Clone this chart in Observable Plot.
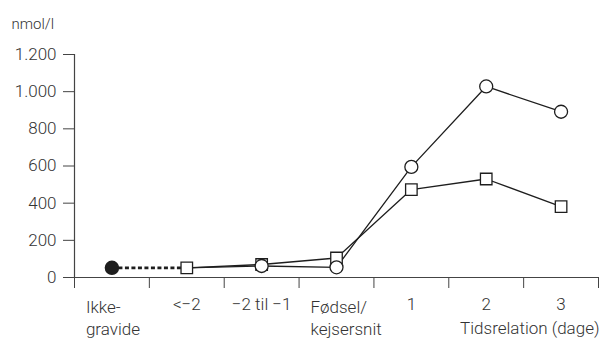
<!DOCTYPE html>
<html>
<head>
<meta charset="utf-8">
<script src="https://cdn.jsdelivr.net/npm/d3@7"></script>
<script src="https://cdn.jsdelivr.net/npm/@observablehq/plot@0.6"></script>
<style>
  html, body { margin: 0; padding: 0; background: white; }
  svg text { font-weight: 300; }
</style>
</head>
<body>
<div id="chart"></div>
<script>
// Categories on the x axis
const categories = ["Ikke-\ngravide", "<\u22122", "\u22122 til \u22121", "Fødsel/\nkejsersnit", "1", "2", "3"];
// Non-pregnant reference value (filled circle)
const nonPregnant = 52;
// Square series
const squareValues = [null, 52, 70, 105, 473, 530, 381];
// Circle series
const circleValues = [null, 52, 62, 55, 595, 1028, 892];
// Y tick values
const yTicks = [0, 200, 400, 600, 800, 1000, 1200];
const yLabel = "nmol/l";
const xLabel = "Tidsrelation (dage)";

const rows = categories.map((c, i) => ({i, c, sq: squareValues[i], ci: circleValues[i]}));
const dotted = [
  {i: 0, v: nonPregnant},
  {i: 1, v: squareValues[1]}
];
const boundaries = d3.range(categories.length + 1);
const fmt = d3.formatLocale({decimal: ",", thousands: ".", grouping: [3], currency: ["", ""]}).format(",");
const ink = "#1e1e1e";
const txt = "#333";

const chart = Plot.plot({
  width: 599,
  height: 338,
  marginLeft: 74,
  marginRight: 1,
  marginTop: 54,
  marginBottom: 61,
  style: {fontFamily: "Roboto", fontSize: "17px", color: txt, background: "white"},
  x: {domain: [0, categories.length], axis: null},
  y: {domain: [0, 1200], axis: null},
  marks: [
    Plot.axisY({ticks: yTicks, tickFormat: fmt, tickSize: 11, tickPadding: 7, label: null, stroke: "#444", fill: txt, fontSize: 17}),
    Plot.axisX({ticks: boundaries, tickFormat: () => "", tickSize: 11, label: null, stroke: "#444"}),
    Plot.ruleY([0], {stroke: "#444", strokeWidth: 1.2}),
    Plot.ruleX([0], {stroke: "#444", strokeWidth: 1.2}),
    // category labels: single-line centered
    Plot.text(rows.filter(d => !d.c.includes("\n")), {x: d => d.i + 0.5, frameAnchor: "bottom", text: "c", lineAnchor: "top", dy: 20, fill: txt}),
    // multi-line labels left-aligned
    Plot.text(rows.filter(d => d.c.includes("\n")), {x: d => d.i + 0.5, frameAnchor: "bottom", text: "c", lineAnchor: "top", textAnchor: "start", dx: -26, dy: 20, lineHeight: 1.3, fill: txt}),
    Plot.text([xLabel], {frameAnchor: "bottom-right", textAnchor: "end", lineAnchor: "middle", dx: 1, dy: 51, fill: txt}),
    Plot.text([yLabel], {frameAnchor: "top-left", textAnchor: "start", lineAnchor: "middle", dx: -63, dy: -30, fill: txt, fontSize: 15}),
    // lines
    Plot.line(dotted, {x: d => d.i + 0.5, y: "v", stroke: ink, strokeWidth: 2.6, strokeDasharray: "4,2.5", strokeLinecap: "butt"}),
    Plot.line(rows.filter(d => d.sq != null), {x: d => d.i + 0.5, y: "sq", stroke: ink, strokeWidth: 1.3}),
    Plot.line(rows.filter(d => d.ci != null), {x: d => d.i + 0.5, y: "ci", stroke: ink, strokeWidth: 1.3}),
    // markers
    Plot.dot([{i: 0, v: nonPregnant}], {x: d => d.i + 0.5, y: "v", r: 6.5, fill: ink, stroke: ink}),
    Plot.dot(rows.filter(d => d.sq != null), {x: d => d.i + 0.5, y: "sq", symbol: "square", r: 6.5, fill: "white", stroke: ink, strokeWidth: 1.3}),
    Plot.dot(rows.filter(d => d.ci != null && d.i > 1), {x: d => d.i + 0.5, y: "ci", symbol: "circle", r: 6.5, fill: "white", stroke: ink, strokeWidth: 1.3})
  ]
});
document.getElementById("chart").appendChild(chart);
</script>
</body>
</html>
